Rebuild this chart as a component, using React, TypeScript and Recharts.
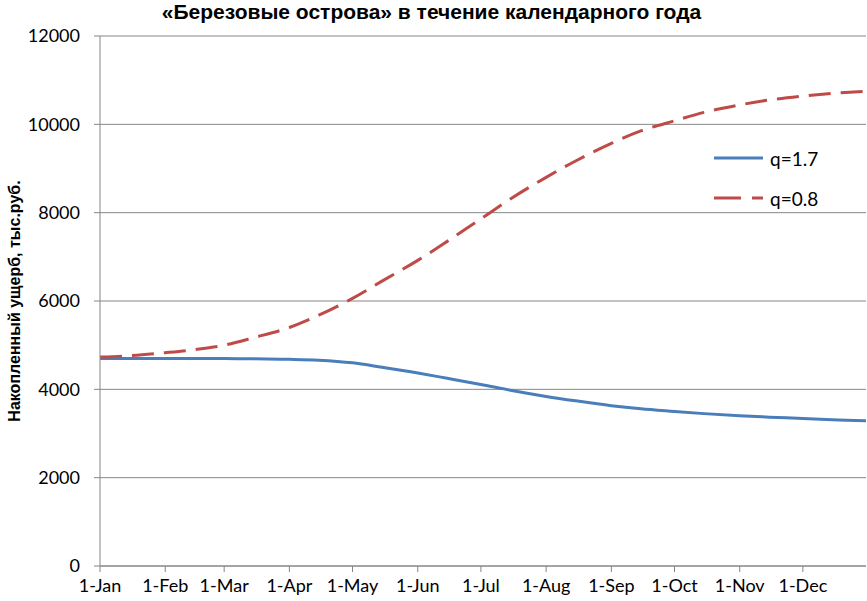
import { CartesianGrid, Line, LineChart, XAxis, YAxis } from "recharts";

// day of year for each sample point
const days = [
  0, 14, 31, 45, 59, 73, 90, 104, 120, 134, 151, 165, 181, 195, 212, 226, 243,
  257, 273, 287, 304, 318, 334, 348, 364,
];
const q17 = [
  4700, 4700, 4700, 4700, 4700, 4690, 4680, 4660, 4600, 4500, 4370, 4250, 4110,
  3980, 3840, 3740, 3630, 3560, 3500, 3450, 3400, 3370, 3340, 3310, 3290,
];
const q08 = [
  4730, 4760, 4830, 4900, 5000, 5170, 5400, 5680, 6060, 6450, 6920, 7350, 7860,
  8310, 8800, 9170, 9570, 9850, 10080, 10270, 10440, 10550, 10640, 10700, 10750,
];
const monthTicks = [0, 31, 59, 90, 120, 151, 181, 212, 243, 273, 304, 334];
const monthLabels = [
  "1-Jan", "1-Feb", "1-Mar", "1-Apr", "1-May", "1-Jun",
  "1-Jul", "1-Aug", "1-Sep", "1-Oct", "1-Nov", "1-Dec",
];
const yTicks = [0, 2000, 4000, 6000, 8000, 10000, 12000];
const seriesNames = ["q=1.7", "q=0.8"];

const data = days.map((d, i) => ({ day: d, a: q17[i], b: q08[i] }));

const tickFont = { fontFamily: "Lato", fontSize: 18, fill: "#000" };

function LegendBox() {
  return (
    <div
      style={{
        position: "absolute",
        left: 714,
        top: 138,
        fontFamily: "Lato",
        fontSize: 19,
        color: "#000",
      }}
    >
      <div style={{ display: "flex", alignItems: "center", height: 40 }}>
        <svg width={56} height={10}>
          <line x1={0} y1={5} x2={49} y2={5} stroke="#4a7ebb" strokeWidth={3} />
        </svg>
        <span>{seriesNames[0]}</span>
      </div>
      <div style={{ display: "flex", alignItems: "center", height: 40 }}>
        <svg width={56} height={10}>
          <line x1={0} y1={5} x2={49} y2={5} stroke="#be4b48" strokeWidth={3} strokeDasharray="27 11" />
        </svg>
        <span>{seriesNames[1]}</span>
      </div>
    </div>
  );
}

export default function App() {
  return (
    <div style={{ position: "absolute", left: 0, top: 0, width: 867, height: 601, background: "#fff", overflow: "hidden" }}>
      <div
        style={{
          position: "absolute",
          top: 2,
          left: 0,
          width: 867,
          textAlign: "center",
          fontFamily: "Liberation Sans",
          fontWeight: "bold",
          fontSize: 21,
          lineHeight: "20px",
          transform: "translateX(-2px)",
        }}
      >
        «Березовые острова» в течение календарного года
      </div>
      <LineChart
        width={867}
        height={601}
        data={data}
        margin={{ top: 36, right: 1, left: 0, bottom: 0 }}
      >
        <CartesianGrid vertical={false} stroke="#868686" strokeWidth={1} />
        <XAxis
          dataKey="day"
          type="number"
          domain={[0, 364]}
          ticks={monthTicks}
          tickFormatter={(v) => monthLabels[monthTicks.indexOf(v)]}
          interval={0}
          height={35}
          tickSize={6}
          tickMargin={7}
          tick={tickFont}
          axisLine={{ stroke: "#868686" }}
          tickLine={{ stroke: "#868686" }}
        />
        <YAxis
          type="number"
          domain={[0, 12000]}
          ticks={yTicks}
          width={100}
          tickSize={6}
          tickMargin={14}
          tick={tickFont}
          axisLine={{ stroke: "#868686" }}
          tickLine={{ stroke: "#868686" }}
          label={{
            value: "Накопленный ущерб, тыс.руб.",
            angle: -90,
            position: "insideLeft",
            offset: 0,
            dx: 14,
            style: {
              textAnchor: "middle",
              fontFamily: "Liberation Sans",
              fontWeight: "bold",
              fontSize: 16,
              fill: "#000",
            },
          }}
        />
        <Line
          type="monotone"
          dataKey="a"
          name={seriesNames[0]}
          stroke="#4a7ebb"
          strokeWidth={3}
          dot={false}
          isAnimationActive={false}
        />
        <Line
          type="monotone"
          dataKey="b"
          name={seriesNames[1]}
          stroke="#be4b48"
          strokeWidth={3}
          strokeDasharray="22 10"
          dot={false}
          isAnimationActive={false}
        />
      </LineChart>
      <LegendBox />
    </div>
  );
}
